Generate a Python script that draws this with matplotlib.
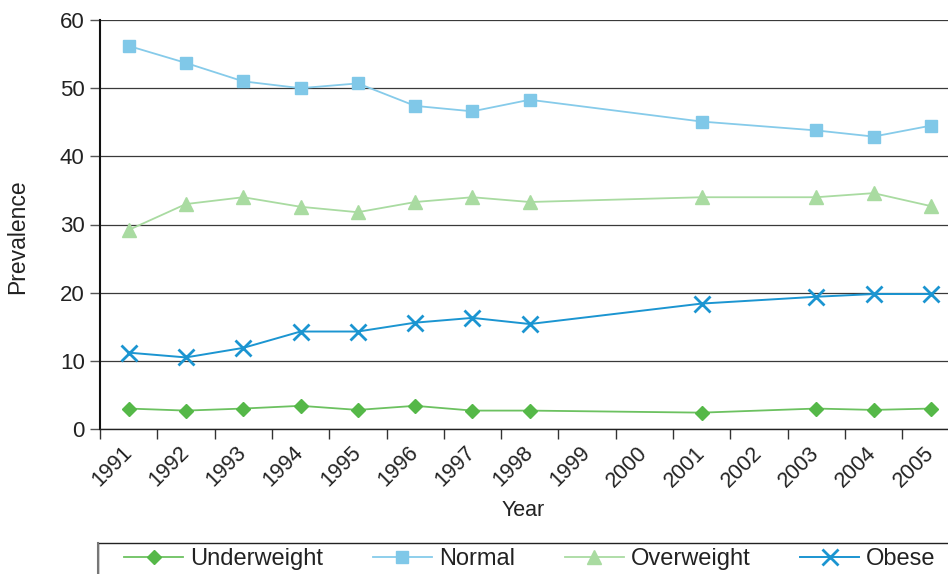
import matplotlib
matplotlib.use("Agg")
import matplotlib.pyplot as plt
from matplotlib.patches import Rectangle
from matplotlib.ticker import FixedLocator

plt.rcParams['font.family'] = ['Liberation Sans', 'DejaVu Sans']

years = [str(y) for y in range(1991, 2006)]
data_years = [1991, 1992, 1993, 1994, 1995, 1996, 1997, 1998, 2001, 2003, 2004, 2005]
underweight = [3.0, 2.7, 3.0, 3.4, 2.8, 3.4, 2.7, 2.7, 2.4, 3.0, 2.8, 3.0]
normal = [56.2, 53.7, 51.0, 50.0, 50.7, 47.4, 46.6, 48.3, 45.1, 43.8, 42.9, 44.5]
overweight = [29.2, 33.0, 34.0, 32.6, 31.8, 33.3, 34.0, 33.3, 34.0, 34.0, 34.6, 32.7]
obese = [11.2, 10.5, 11.9, 14.3, 14.3, 15.6, 16.3, 15.4, 18.4, 19.4, 19.8, 19.8]
yticks = [0, 10, 20, 30, 40, 50, 60]

W, H = 948, 574
fig = plt.figure(figsize=(W / 100, H / 100), dpi=100)
ax = fig.add_axes([100 / W, (H - 429) / H, 859.5 / W, 409 / H])

xpos = [years.index(str(y)) for y in data_years]

l1, = ax.plot(xpos, underweight, color='#6cc160', lw=1.3, marker='D', ms=7.4,
              markerfacecolor='#55b848', markeredgecolor='#55b848', label='Underweight')
l2, = ax.plot(xpos, normal, color='#86cbea', lw=1.3, marker='s', ms=8.8,
              markerfacecolor='#80c8e8', markeredgecolor='#80c8e8', label='Normal')
l3, = ax.plot(xpos, overweight, color='#a9dba1', lw=1.3, marker='^', ms=10,
              markerfacecolor='#a9dba1', markeredgecolor='#a9dba1', label='Overweight')
l4, = ax.plot(xpos, obese, color='#1b95d1', lw=1.4, marker='x', ms=11,
              markeredgewidth=2.0, label='Obese')

ax.set_xlim(-0.5, len(years) - 0.5)
ax.set_ylim(0, 60)
ax.set_yticks(yticks)
ax.set_xticks(range(len(years)))
ax.set_xticklabels(years, rotation=45, ha='right', va='center', rotation_mode='anchor')
ax.xaxis.set_minor_locator(FixedLocator([i - 0.5 for i in range(len(years) + 1)]))
ax.tick_params(axis='x', which='major', length=0, pad=15, labelsize=15.5, labelcolor='#222222')
ax.tick_params(axis='x', which='minor', length=7, width=1.0, color='#333333', direction='out')
ax.tick_params(axis='y', length=7, width=1.0, color='#555555', labelsize=16,
               labelcolor='#222222', pad=4)

ax.grid(axis='y', color='#3a3a3a', lw=0.9)
ax.set_axisbelow(True)
for s in ['top', 'right']:
    ax.spines[s].set_visible(False)
ax.spines['left'].set_color('#111111')
ax.spines['left'].set_linewidth(1.5)
ax.spines['bottom'].set_color('#222222')
ax.spines['bottom'].set_linewidth(1.0)

ax.set_ylabel('Prevalence', fontsize=16.5, color='#222222')
ax.yaxis.set_label_coords(-82 / 859.5, 0.47)
ax.set_xlabel('Year', fontsize=15.5, color='#222222')
ax.xaxis.set_label_coords((523 - 100) / 859.5, -(511 - 429) / 409)
ax.xaxis.label.set_va('center')
ax.yaxis.label.set_va('center')

# legend box
fig.patches.append(Rectangle((98 / W, -0.05), 900 / W, 0.05 + (H - 543) / H,
                             transform=fig.transFigure, fill=False,
                             edgecolor='#222222', lw=1.0))
fig.lines.append(matplotlib.lines.Line2D([98 / W, 98 / W], [0, (H - 543) / H],
                                         transform=fig.transFigure, color='#777777', lw=1.5))
fig.legend(handles=[l1, l2, l3, l4], loc='center left', ncol=4,
           bbox_to_anchor=(103 / W, (H - 559) / H), frameon=False,
           fontsize=17, handlelength=2.5, handletextpad=0.3, columnspacing=2.1,
           labelcolor='#222222')

fig.savefig('out.png', dpi=100)
